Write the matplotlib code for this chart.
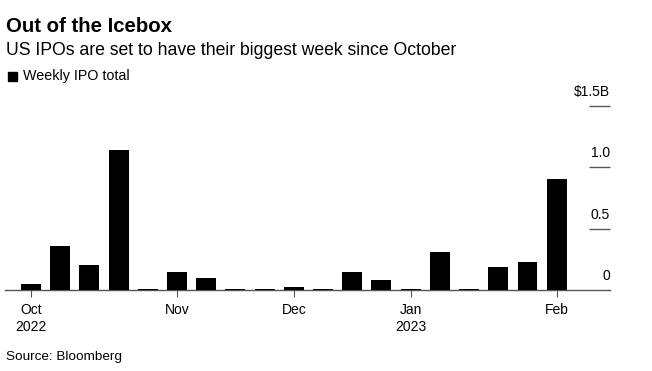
import matplotlib.pyplot as plt
import numpy as np
import pandas as pd

plt.rcParams['font.family'] = ['Liberation Sans', 'DejaVu Sans']

# weekly IPO totals, $ billions (weeks starting Monday)
weeks = pd.date_range("2022-10-03", periods=19, freq="7D")
totals = [0.05, 0.36, 0.20, 1.14, 0.008, 0.15, 0.10, 0.006, 0.006, 0.025,
          0.006, 0.15, 0.083, 0.008, 0.31, 0.006, 0.185, 0.23, 0.90]

y_ticks = [0, 0.5, 1.0, 1.5]
y_labels = ["0", "0.5", "1.0", "$1.5B"]

fig = plt.figure(figsize=(6.52, 3.71), dpi=100)
ax = fig.add_axes([0.0077, 0.2183, 0.928, 0.4973])

x = np.arange(len(totals))
ax.bar(x, totals, width=0.68, color="black", zorder=3)

ax.set_xlim(-0.89, 19.83)
ax.set_ylim(0, 1.5)

# short gridline stubs at right with labels above
for v, lab in zip(y_ticks, y_labels):
    if v > 0:
        ax.hlines(v, 19.1, 19.83, color="#555555", lw=1.0, clip_on=False)
    ax.annotate(lab, xy=(19.83, v), xytext=(0, 5), textcoords="offset points",
                ha="right", va="bottom", fontsize=10, color="black",
                annotation_clip=False)

# month ticks at first week of each month
tick_pos, tick_lab = [], []
prev = None
for i, d in enumerate(weeks):
    if d.month != prev:
        tick_pos.append(i)
        lab = d.strftime("%b")
        if i == 0 or d.month == 1:
            lab += "\n" + d.strftime("%Y")
        tick_lab.append(lab)
    prev = d.month
ax.set_xticks(tick_pos)
ax.set_xticklabels(tick_lab, fontsize=10, linespacing=1.3)
ax.tick_params(axis="x", length=5, color="#555555", pad=4)
ax.set_yticks([])

for s in ["top", "right", "left"]:
    ax.spines[s].set_visible(False)
ax.spines["bottom"].set_color("#555555")
ax.spines["bottom"].set_linewidth(1.0)
ax.spines["bottom"].set_zorder(2)

fig.text(0.009, 0.913, "Out of the Icebox", fontsize=14.7, fontweight="bold", va="baseline")
fig.text(0.009, 0.852, "US IPOs are set to have their biggest week since October", fontsize=12.7, va="baseline")
fig.patches.append(plt.Rectangle((0.0125, 0.782), 0.0135, 0.0235, transform=fig.transFigure,
                                 color="black", figure=fig))
fig.text(0.035, 0.784, "Weekly IPO total", fontsize=10.3, va="baseline")
fig.text(0.009, 0.03, "Source: Bloomberg", fontsize=9.7, va="baseline")

fig.savefig("out.png", dpi=100)
